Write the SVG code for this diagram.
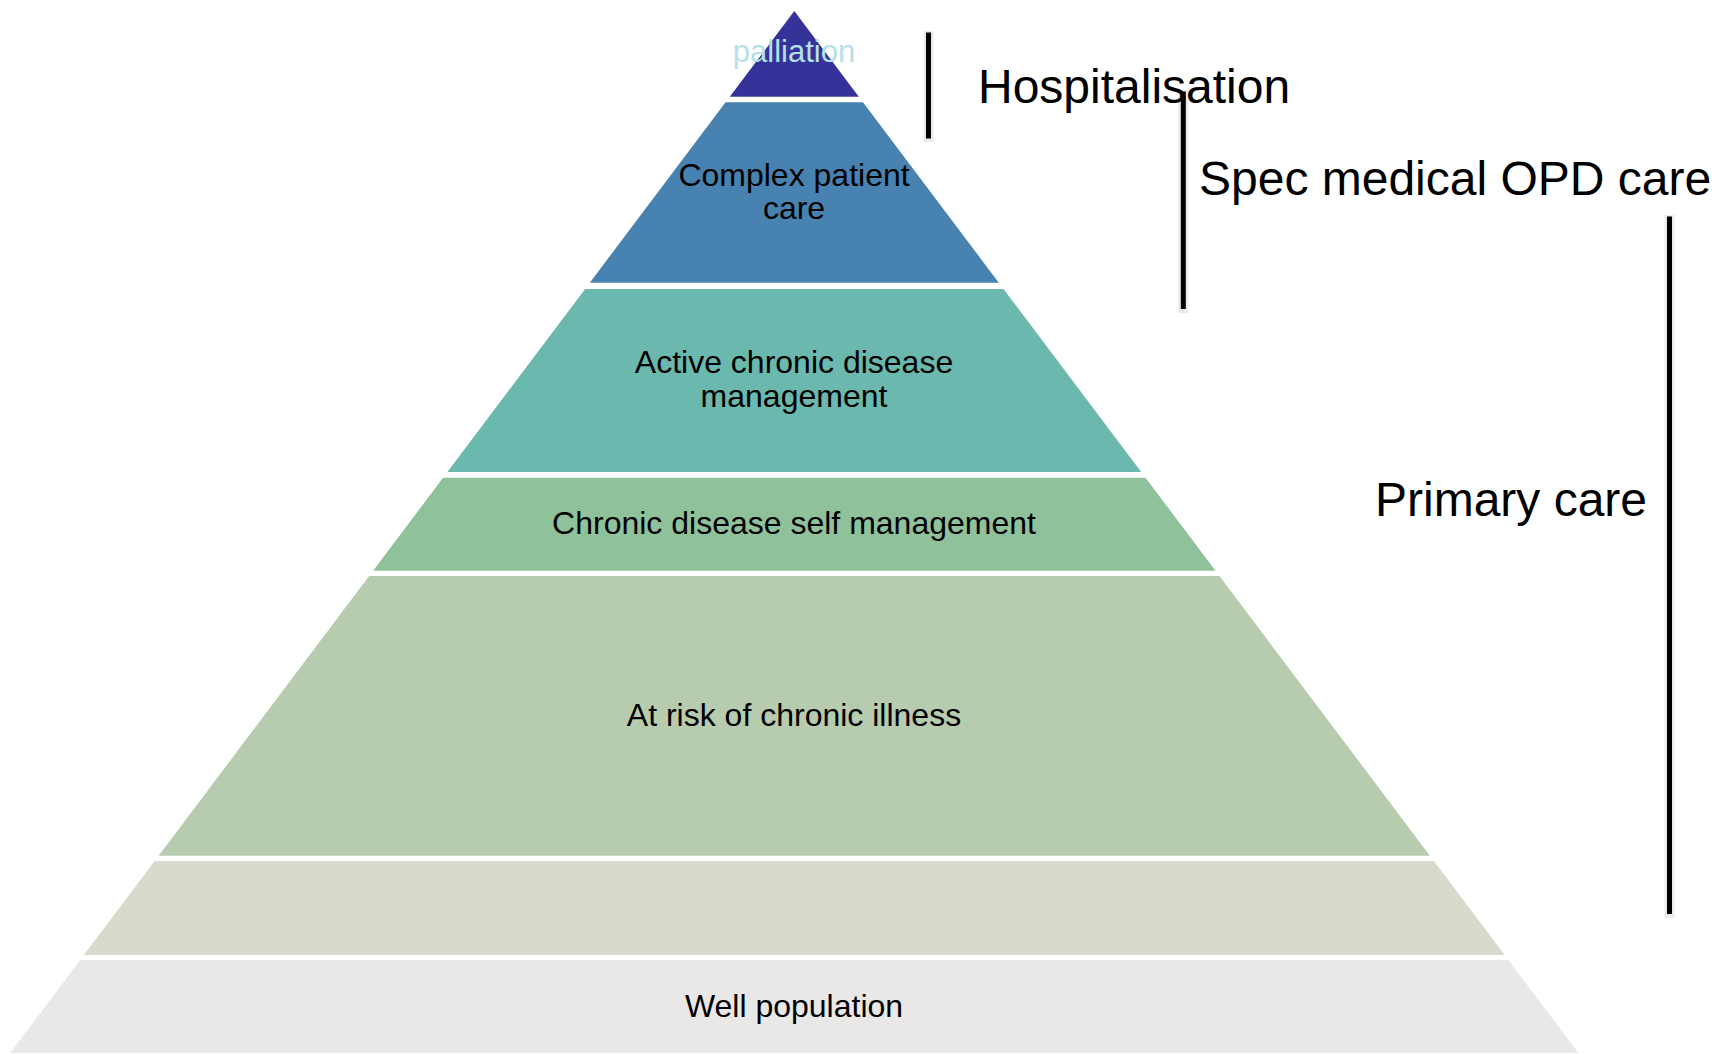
<svg xmlns="http://www.w3.org/2000/svg" width="1714" height="1054" viewBox="0 0 1714 1054">
<style>
.lbl{font-family:"Liberation Sans",Arial,sans-serif;font-size:32px;fill:#000;text-anchor:middle}
.big{font-family:"Liberation Sans",Arial,sans-serif;font-size:48px;fill:#000}
.halo{stroke:#ebebeb;stroke-width:10;fill:none}
.bar{stroke:#000;stroke-width:5;fill:none}
</style>
<rect width="1714" height="1054" fill="#fff"/>
<g id="tier-palliation">
<polygon points="794.3,11 858.8,96.7 729.8,96.7" fill="#35339a"/>
<text class="lbl" x="794" y="62" style="font-size:31px;fill:#b5e1e6">palliation</text>
</g>
<g id="tier-complex">
<polygon points="725.6,102.3 863,102.3 998.8,282.7 589.8,282.7" fill="#4782b0"/>
<text class="lbl" x="794" y="186">Complex patient</text>
<text class="lbl" x="794" y="218.5">care</text>
</g>
<g id="tier-active">
<polygon points="585.1,289 1003.5,289 1141.2,472 447.4,472" fill="#6ab8ae"/>
<text class="lbl" x="794" y="373">Active chronic disease</text>
<text class="lbl" x="794" y="406.5">management</text>
</g>
<g id="tier-self">
<polygon points="443.1,477.7 1145.5,477.7 1215.5,570.7 373.1,570.7" fill="#8fc29b"/>
<text class="lbl" x="794" y="534">Chronic disease self management</text>
</g>
<g id="tier-atrisk">
<polygon points="369.1,576 1219.5,576 1429.9,855.7 158.7,855.7" fill="#b7ccaf"/>
<text class="lbl" x="794" y="726">At risk of chronic illness</text>
</g>
<g id="tier-blank">
<polygon points="154.7,861 1433.9,861 1504.7,955 83.9,955" fill="#d8dacc"/>
</g>
<g id="tier-well">
<polygon points="80.2,960 1508.4,960 1578.4,1053 10.2,1053" fill="#e9e8e6"/>
<text class="lbl" x="794" y="1017">Well population</text>
</g>
<g id="bars">
<line class="halo" x1="928.5" y1="31" x2="928.5" y2="142"/>
<line class="bar" x1="928.5" y1="32.5" x2="928.5" y2="138.5"/>
<line class="halo" x1="1183.3" y1="90" x2="1183.3" y2="313"/>
<line class="bar" x1="1183.3" y1="91.5" x2="1183.3" y2="309"/>
<line class="halo" x1="1669.5" y1="215" x2="1669.5" y2="918"/>
<line class="bar" x1="1669.5" y1="216.5" x2="1669.5" y2="914"/>
</g>
<g id="label-hospitalisation"><text class="big" x="978" y="103">Hospitalisation</text></g>
<g id="label-spec"><text class="big" x="1199" y="195">Spec medical OPD care</text></g>
<g id="label-primary"><text class="big" x="1375" y="516">Primary care</text></g>
</svg>
